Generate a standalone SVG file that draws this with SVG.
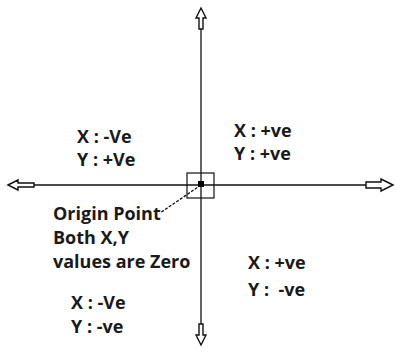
<svg xmlns="http://www.w3.org/2000/svg" width="396" height="352" viewBox="0 0 396 352">
<style>
.t{font-family:"Open Sans","Liberation Sans",sans-serif;font-weight:bold;font-size:18px;fill:#1a1a1a}
.ax{stroke:#111;stroke-width:1.3;fill:none}
.ar{stroke:#111;stroke-width:1.4;fill:#fff;stroke-linejoin:miter}
</style>
<rect width="396" height="352" fill="#fff"/>
<g id="connectors">
<line class="ax" x1="201" y1="28" x2="201" y2="330"/>
<line class="ax" x1="34" y1="185" x2="366" y2="185"/>
<line x1="201" y1="185" x2="160" y2="213" stroke="#111" stroke-width="1.3" stroke-dasharray="3,1.5"/>
<polygon class="ar" points="201,8 206,18 203,18 203,29 199,29 199,18 196,18"/>
<polygon class="ar" points="201,345 196,335 199,335 199,324 203,324 203,335 206,335"/>
<polygon class="ar" points="8,185 18,180 18,183 34,183 34,187 18,187 18,190"/>
<polygon class="ar" points="393,185 381,179 381,182 366,182 366,188 381,188 381,191"/>
</g>
<g id="origin">
<rect x="187" y="173" width="27" height="25" fill="none" stroke="#111" stroke-width="1.2"/>
<rect x="198" y="181" width="6" height="6" fill="#000"/>
<text class="t" x="53" y="220">Origin Point</text>
<text class="t" x="53" y="244">Both X,Y</text>
<text class="t" x="53" y="268">values are Zero</text>
</g>
<g id="q2">
<text class="t" x="77" y="143">X : -Ve</text>
<text class="t" x="77" y="166">Y : +Ve</text>
</g>
<g id="q1">
<text class="t" x="234" y="137">X : +ve</text>
<text class="t" x="234" y="160">Y : +ve</text>
</g>
<g id="q4">
<text class="t" x="248" y="269">X : +ve</text>
<text class="t" x="248" y="296" xml:space="preserve">Y :  -ve</text>
</g>
<g id="q3">
<text class="t" x="71" y="309">X : -Ve</text>
<text class="t" x="71" y="333">Y : -ve</text>
</g>
</svg>
